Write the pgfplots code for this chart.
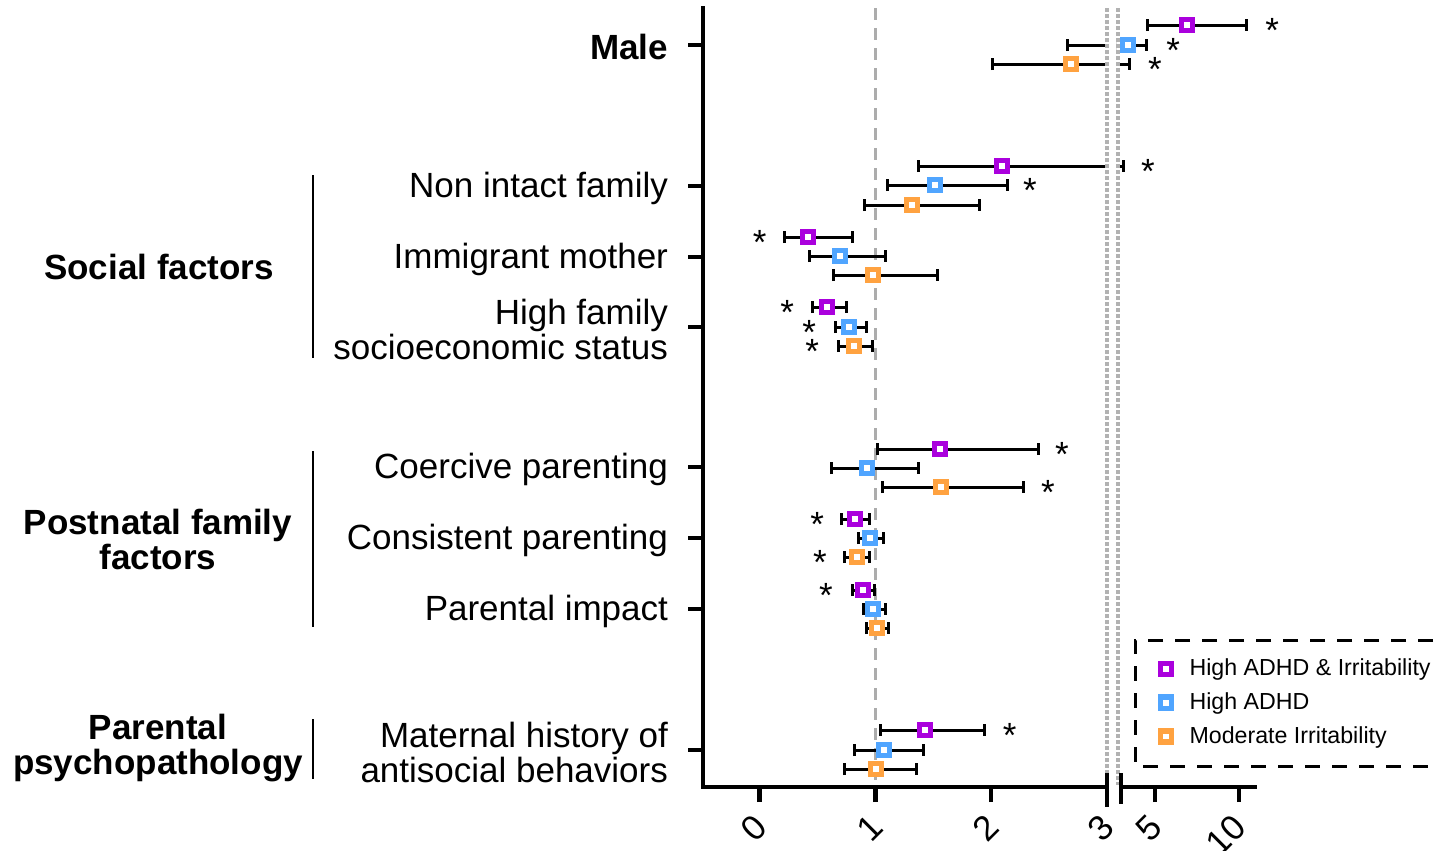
\documentclass[border=0pt]{standalone}
\usepackage{pgfplots}
\pgfplotsset{compat=1.18}
\usepackage{pgfplotstable}
\usepackage{fontspec}
\setmainfont{Liberation Sans}
\newcommand\lf{\fontsize{17.5pt}{17.5pt}\selectfont}
\definecolor{cpur}{RGB}{170,0,221}
\definecolor{cblu}{RGB}{80,165,255}
\definecolor{cora}{RGB}{255,162,64}

\pgfplotstableread{
x y lo hi
6.92 -25 4.60 10.48
2.093 -166 1.368 3.12
0.418 -237 0.211 0.798
0.582 -307 0.453 0.746
1.557 -449 1.014 2.41
0.823 -519 0.71 0.945
0.893 -590 0.798 0.988
1.428 -730 1.04 1.946
}\purple
\pgfplotstableread{
x y lo hi
3.42 -45 2.655 4.54
1.515 -185 1.10 2.137
0.694 -256 0.435 1.083
0.772 -327 0.651 0.927
0.927 -468 0.617 1.368
0.953 -538 0.85 1.066
0.979 -609 0.893 1.083
1.074 -750 0.815 1.411
}\blue
\pgfplotstableread{
x y lo hi
2.69 -64 2.007 3.53
1.316 -205 0.902 1.903
0.979 -275 0.634 1.532
0.815 -346 0.677 0.979
1.566 -487 1.057 2.283
0.84 -557 0.737 0.945
1.014 -628 0.919 1.109
1.005 -769 0.729 1.358
}\orange
\pgfplotstableread{
x y
0.0 -237
0.237 -307
0.427 -327
0.453 -346
2.61 -449
2.49 -487
0.496 -519
0.52 -557
0.573 -590
2.16 -730
2.335 -185
}\astL
\pgfplotstableread{
x y
11.97 -25
6.09 -45
5.02 -64
4.60 -166
}\astR

\pgfplotsset{
  base/.style={scale only axis, ymin=-787, ymax=-8, clip mode=individual,
    clip marker paths=true, tick align=outside, major tick length=7.5pt,
    tick style={line width=2.2pt, black}, axis line style={line width=2.2pt, black, line cap=rect},
    /pgf/number format/assume math mode=true, ticklabel style={font=\lf},
    xticklabel style={xshift=3pt, yshift=-7pt, rotate=45, anchor=east}},
  ci/.style={only marks, mark=square*, mark size=2.8pt,
    mark options={fill=white, draw=#1, line width=2.75pt, solid},
    error bars/.cd, x dir=both, x explicit, error mark=|,
    error bar style={black, line width=1.5pt, solid},
    error mark options={black, line width=1.5pt, mark size=3pt, solid}},
  ast/.style={draw=none, mark=none, nodes near coords={*}, nodes near coords align={center},
    every node near coord/.append style={font=\lf, yshift=-2.5pt}}
}
\newcommand\ciplot[2]{\addplot[ci=#1] table[x=x, y=y, x error plus expr=\thisrow{hi}-\thisrow{x}, x error minus expr=\thisrow{x}-\thisrow{lo}] {#2};}

\begin{document}
\begin{tikzpicture}
\path[use as bounding box] (0,0) rectangle (720pt,-425.5pt);
% left axis
\begin{axis}[base, at={(351.5pt,-393.5pt)}, anchor=south west, width=202pt, height=389.5pt,
  xmin=-0.489, xmax=3, axis x line*=bottom, axis y line*=left,
  xtick={0,1,2,3},
  ytick={-750,-609,-538,-467,-327,-257,-186,-45},
  yticklabels={{Maternal history of\\antisocial behaviors},{Parental impact},{Consistent parenting},{Coercive parenting},{High family\\socioeconomic status},{Immigrant mother},{Non intact family},{\textbf{Male}}},
  yticklabel style={align=right, xshift=-6.5pt, yshift=-1pt}]
\draw[gray!65, line width=1.5pt, dash pattern=on 6pt off 4pt] (axis cs:1,-8) -- (axis cs:1,-787);
\ciplot{cpur}{\purple}
\ciplot{cblu}{\blue}
\ciplot{cora}{\orange}
\addplot[ast] table[x=x,y=y] {\astL};
\draw[gray!60, line width=1.6pt, dash pattern=on 2pt off 1pt] (axis cs:3,-8) -- (axis cs:3,-785);
\draw[line width=2.2pt] (axis cs:3,-773) -- (axis cs:3,-807);
\end{axis}
% right axis
\begin{axis}[base, at={(558.4pt,-393.5pt)}, anchor=south west, width=82.1pt, height=389.5pt,
  xmin=2.75, xmax=12.5, axis x line*=bottom, axis y line=none,
  x axis line style={draw=none}, xtick={5,10}, ytick=\empty,
  legend style={draw=none, fill=none, at={(axis description cs:0.226,0.175)}, anchor=north west,
    font=\fontsize{11.6pt}{13pt}\selectfont, row sep=3pt, column sep=7pt},
  legend cell align=left]
\ciplot{cpur}{\purple}
\addlegendentry{High ADHD \& Irritability}
\ciplot{cblu}{\blue}
\addlegendentry{High ADHD}
\ciplot{cora}{\orange}
\addlegendentry{Moderate Irritability}
\addplot[ast, forget plot] table[x=x,y=y] {\astR};
\draw[gray!60, line width=1.6pt, dash pattern=on 2pt off 1pt] (axis cs:2.82,-8) -- (axis cs:2.82,-785);
\draw[line width=2.2pt] (axis cs:3,-787) -- (axis cs:11.08,-787);
\draw[line width=2.2pt] (axis cs:3,-773) -- (axis cs:3,-804);
\end{axis}
% annotations in pixel coordinates
\begin{scope}[x=0.5pt, y=-0.5pt]
\node[font=\lf\bfseries] at (159,267) {Social factors};
\node[font=\lf\bfseries, align=center] at (158,539) {Postnatal family\\factors};
\node[font=\lf\bfseries, align=center] at (158,748) {Parental\\psychopathology};
\draw[line width=1pt] (313,175) -- (313,358);
\draw[line width=1pt] (313,451) -- (313,627);
\draw[line width=1pt] (313,719) -- (313,779);
\draw[line width=1.5pt, dash pattern=on 7.5pt off 6pt] (1460,640) -- (1135,640) -- (1135,766) -- (1460,766);
\end{scope}
\end{tikzpicture}
\end{document}
